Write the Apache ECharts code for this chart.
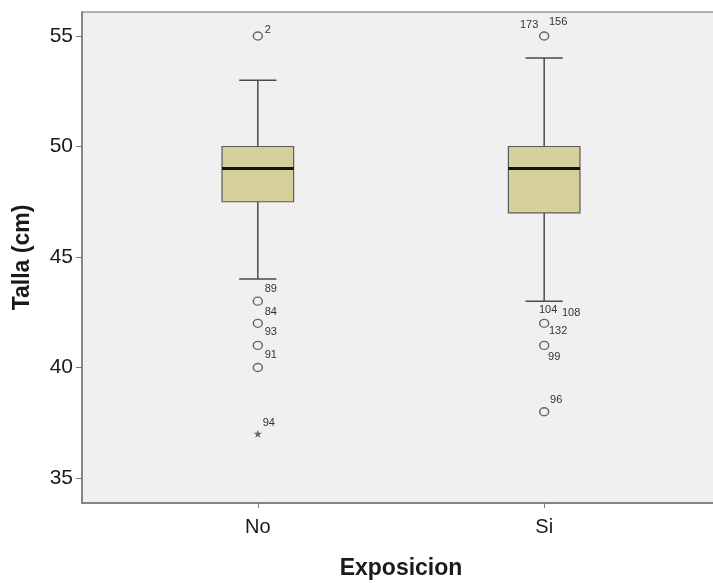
<!DOCTYPE html>
<html>
<head>
<meta charset="utf-8">
<script src="https://cdn.jsdelivr.net/npm/echarts@6/dist/echarts.min.js"></script>
<style>
html,body{margin:0;padding:0;background:#fff;}
#chart{width:713px;height:583px;}
</style>
</head>
<body>
<div id="chart"></div>
<script>
// ---- data ----
const categories = ['No', 'Si'];
const lowWhisker = [44, 43];
const q1 = [47.5, 47];
const median = [49, 49];
const q3 = [50, 50];
const highWhisker = [53, 54];

// outliers (circles) per group
const outlierNo = [55, 43, 42, 41, 40];
const outlierSi = [55, 42, 41, 38];
// extremes (stars)
const extremeNo = [37];

// case ids attached to each outlier
const caseIdNo = [['2'], ['89'], ['84'], ['93'], ['91']];
const caseIdSi = [['173', '156'], ['104', '108'], ['132', '99'], ['96']];
const extremeIdNo = [['94']];

const yTicks = [35, 40, 45, 50, 55];

// ---- layout (pixel offsets of case-id labels from their point) ----
const labelOffset = {
  '2': [10, -6], '89': [13, -12], '84': [13, -11], '93': [13, -13], '91': [13, -13], '94': [11, -11],
  '173': [-15, -11], '156': [14, -14], '104': [4, -13], '108': [27, -10], '132': [14, -14], '99': [10, 12], '96': [12, -12]
};

const boxData = categories.map((c, i) => [i, lowWhisker[i], q1[i], median[i], q3[i], highWhisker[i]]);
const outlierData = outlierNo.map(v => [0, v]).concat(outlierSi.map(v => [1, v]));
const extremeData = extremeNo.map(v => [0, v]);
const labelData = [];
outlierNo.forEach((v, i) => caseIdNo[i].forEach(id => labelData.push([0, v, id])));
outlierSi.forEach((v, i) => caseIdSi[i].forEach(id => labelData.push([1, v, id])));
extremeNo.forEach((v, i) => extremeIdNo[i].forEach(id => labelData.push([0, v, id])));

const chart = echarts.init(document.getElementById('chart'));
const FONT = '"Liberation Sans", Arial, sans-serif';

chart.setOption({
  animation: false,
  backgroundColor: '#ffffff',
  grid: {
    left: 82, top: 12, right: -7, bottom: 80,
    outerBoundsMode: 'none',
    containLabel: false,
    show: true, backgroundColor: '#F0F0F0', borderColor: '#999999', borderWidth: 1.5
  },
  xAxis: {
    type: 'value',
    min: -0.614, max: 1.614,
    splitLine: { show: false },
    axisLine: { show: true, onZero: false, lineStyle: { color: '#777777', width: 1.5 } },
    axisTick: { show: true, length: 5, customValues: [0, 1], lineStyle: { color: '#777777' } },
    axisLabel: {
      customValues: [0, 1],
      formatter: v => categories[Math.round(v)],
      color: '#1a1a1a', fontSize: 20, fontFamily: FONT, margin: 14
    },
    name: 'Exposicion',
    nameLocation: 'middle',
    nameGap: 54,
    nameTextStyle: { fontSize: 23, fontWeight: 'bold', color: '#1a1a1a', fontFamily: FONT }
  },
  yAxis: {
    type: 'value',
    min: 33.87, max: 56.085,
    splitLine: { show: false },
    axisLine: { show: true, onZero: false, lineStyle: { color: '#777777', width: 1.5 } },
    axisTick: { show: true, length: 6, customValues: yTicks, lineStyle: { color: '#777777' } },
    axisLabel: { customValues: yTicks, color: '#1a1a1a', fontSize: 21, fontFamily: FONT, margin: 9 },
    name: 'Talla (cm)',
    nameLocation: 'middle',
    nameGap: 48,
    nameRotate: 90,
    nameTextStyle: { fontSize: 23, fontWeight: 'bold', color: '#1a1a1a', fontFamily: FONT }
  },
  series: [
    {
      type: 'custom',
      data: boxData,
      encode: { x: 0, y: [1, 2, 3, 4, 5] },
      renderItem: function (params, api) {
        const x = api.value(0);
        const pLo = api.coord([x, api.value(1)]);
        const pQ1 = api.coord([x, api.value(2)]);
        const pMed = api.coord([x, api.value(3)]);
        const pQ3 = api.coord([x, api.value(4)]);
        const pHi = api.coord([x, api.value(5)]);
        const halfBox = api.size([0.25, 0])[0] / 2;
        const halfCap = api.size([0.13, 0])[0] / 2;
        const cx = pMed[0];
        const wStyle = { stroke: '#4a4a4a', lineWidth: 1.5 };
        return {
          type: 'group',
          children: [
            { type: 'line', shape: { x1: cx, y1: pLo[1], x2: cx, y2: pQ1[1] }, style: wStyle },
            { type: 'line', shape: { x1: cx, y1: pQ3[1], x2: cx, y2: pHi[1] }, style: wStyle },
            { type: 'line', shape: { x1: cx - halfCap, y1: pLo[1], x2: cx + halfCap, y2: pLo[1] }, style: wStyle },
            { type: 'line', shape: { x1: cx - halfCap, y1: pHi[1], x2: cx + halfCap, y2: pHi[1] }, style: wStyle },
            { type: 'rect', shape: { x: cx - halfBox, y: pQ3[1], width: 2 * halfBox, height: pQ1[1] - pQ3[1] },
              style: { fill: '#D5CF99', stroke: '#5a5a5a', lineWidth: 1.2 } },
            { type: 'line', shape: { x1: cx - halfBox, y1: pMed[1], x2: cx + halfBox, y2: pMed[1] },
              style: { stroke: '#111111', lineWidth: 3 } }
          ]
        };
      }
    },
    {
      type: 'scatter',
      data: outlierData,
      symbol: 'circle',
      symbolSize: [9, 8],
      itemStyle: { color: '#F0F0F0', borderColor: '#444444', borderWidth: 1.4 }
    },
    {
      type: 'scatter',
      data: extremeData,
      symbol: 'path://M0,-10 L2.4,-3.2 L9.5,-3.1 L3.8,1.2 L5.9,8.1 L0,4 L-5.9,8.1 L-3.8,1.2 L-9.5,-3.1 L-2.4,-3.2 Z',
      symbolSize: 8,
      itemStyle: { color: '#444444' }
    },
    {
      type: 'custom',
      data: labelData,
      encode: { x: 0, y: 1 },
      renderItem: function (params, api) {
        const p = api.coord([api.value(0), api.value(1)]);
        const id = labelData[params.dataIndex][2];
        const off = labelOffset[id] || [10, -10];
        return {
          type: 'text',
          style: {
            x: p[0] + off[0], y: p[1] + off[1], text: id,
            fill: '#333333', font: '11px ' + FONT, align: 'center', verticalAlign: 'middle'
          }
        };
      }
    }
  ]
});
</script>
</body>
</html>
